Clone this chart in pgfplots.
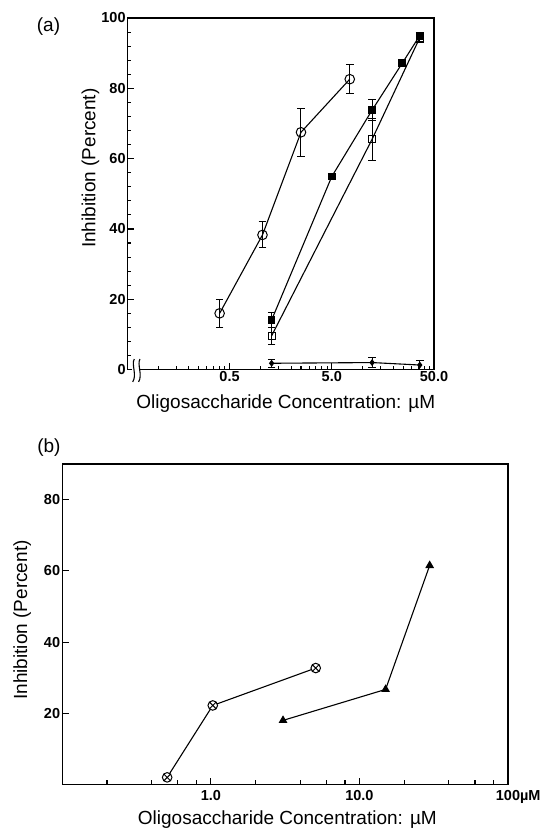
\documentclass[border=0pt]{standalone}
\usepackage{pgfplots}
\pgfplotsset{compat=1.18}
\usepackage{fontspec}
\setmainfont{Liberation Sans}
\usetikzlibrary{plotmarks}
\begin{document}
\begin{tikzpicture}
\path[use as bounding box] (0pt,0pt) rectangle (540pt,835pt);
% Panel (a)
\begin{axis}[
  scale only axis, anchor=south west,
  at={(127.3pt,465.4pt)}, width=306.7pt, height=351.6pt,
  xmode=log,
  xmin=0.05, xmax=50, ymin=0, ymax=100,
  axis line style={line width=1.4pt},
  xtick pos=left, ytick pos=left,
  tick style={draw=none},
  tick label style={font=\bfseries\fontsize{14.5}{15}\selectfont},
  label style={font=\fontsize{19}{20}\selectfont},
  clip=false,
  xtick={0.5,5,50}, xticklabels={0.5,5.0,50.0},
  ytick={0,20,40,60,80,100},
  yticklabel style={inner sep=1.5pt},
  xticklabel style={inner sep=2pt},
  xlabel={Oligosaccharide Concentration: µM},
  xlabel style={at={(axis description cs:0.517,-0.098)}, anchor=center},
  ylabel={Inhibition (Percent)},
  ylabel style={at={(axis description cs:-0.12,0.573)}, anchor=center},
  /pgf/number format/assume math mode=true,
]
% tick marks (inside), drawn in axis coordinates
\pgfplotsinvokeforeach{20,40,60,80}{\draw[line width=1.1pt] (axis cs:0.05,#1) -- (axis cs:0.0579,#1);}
\pgfplotsinvokeforeach{4,8,12,16,24,28,32,36,44,48,52,56,64,68,72,76,84,88,92,96}{\draw[line width=1.1pt] (axis cs:0.05,#1) -- (axis cs:0.05445,#1);}
\pgfplotsinvokeforeach{0.5,5}{\draw[line width=1.1pt] (axis cs:#1,0) -- (axis cs:#1,1.85);}
\pgfplotsinvokeforeach{0.1,0.15,0.2,0.25,0.3,0.35,0.4,0.45,1,1.5,2,2.5,3,3.5,4,4.5,10,15,20,25,30,35,40,45}{\draw[line width=1.1pt] (axis cs:#1,0) -- (axis cs:#1,1.08);}
% data
\addplot[black, line width=1.1pt, mark=diamond*, mark size=2.6pt, mark options={fill=black},
  error bars/.cd, y dir=both, y explicit, error bar style={line width=1pt}, error mark options={rotate=90, mark size=3.8pt, line width=1pt}]
  coordinates {(1.29,1.8) +- (0,1.2) (12.4,2.0) +- (0,1.3) (36.3,1.3) +- (0,1.2)};
\addplot[black, line width=1.1pt, mark=square, mark size=3.4pt, mark options={fill=white, line width=1pt},
  error bars/.cd, y dir=both, y explicit, error bar style={line width=1pt}, error mark options={rotate=90, mark size=3.8pt, line width=1pt}]
  coordinates {(1.29,9.6) +- (0,2.5) (12.4,65.5) +- (0,6) (36.3,94.4) +- (0,1.5)};
\addplot[black, line width=1.1pt, mark=square*, mark size=3.2pt, mark options={fill=black},
  error bars/.cd, y dir=both, y explicit, error bar style={line width=1pt}, error mark options={rotate=90, mark size=3.8pt, line width=1pt}]
  coordinates {(1.29,14.1) +- (0,2) (5.0,54.9) +- (0,0.8) (12.4,73.8) +- (0,3) (24.4,87.1) +- (0,1) (36.3,95.0) +- (0,1)};
\addplot[black, line width=1.1pt, mark=o, mark size=4.8pt, mark options={fill=white, line width=1pt},
  error bars/.cd, y dir=both, y explicit, error bar style={line width=1pt}, error mark options={rotate=90, mark size=3.8pt, line width=1pt}]
  coordinates {(0.40,16.0) +- (0,4) (1.05,38.3) +- (0,3.7) (2.5,67.5) +- (0,6.8) (7.5,82.6) +- (0,4.2)};
% axis break
\fill[white] (axis cs:0.0555,-3.2) rectangle (axis cs:0.0665,3.2);
\draw[line width=1.1pt] (axis cs:0.0585,3.0) .. controls (axis cs:0.0545,1.5) and (axis cs:0.0625,-1.5) .. (axis cs:0.0565,-3.5);
\draw[line width=1.1pt] (axis cs:0.0665,3.0) .. controls (axis cs:0.062,1.5) and (axis cs:0.071,-1.5) .. (axis cs:0.0645,-3.5);
\node[font=\fontsize{19}{20}\selectfont] at (rel axis cs:-0.257,0.975) {(a)};
\end{axis}
% Panel (b)
\begin{axis}[
  scale only axis, anchor=south west,
  at={(62.3pt,50.5pt)}, width=445.7pt, height=320.5pt,
  xmode=log,
  xmin=0.1, xmax=100, ymin=0, ymax=90,
  axis line style={line width=1.4pt},
  xtick pos=left, ytick pos=left,
  tick style={draw=none},
  tick label style={font=\bfseries\fontsize{14.5}{15}\selectfont},
  label style={font=\fontsize{19}{20}\selectfont},
  clip=false,
  xtick={1,10,100}, xticklabels={1.0,10.0,100\rlap{µM}},
  ytick={20,40,60,80},
  yticklabel style={inner sep=2pt},
  xticklabel style={inner sep=6pt},
  xlabel={Oligosaccharide Concentration: µM},
  xlabel style={at={(axis description cs:0.505,-0.111)}, anchor=center},
  ylabel={Inhibition (Percent)},
  ylabel style={at={(axis description cs:-0.09,0.513)}, anchor=center},
  /pgf/number format/assume math mode=true,
]
\pgfplotsinvokeforeach{20,40,60,80}{\draw[line width=1.1pt] (axis cs:0.1,#1) -- (axis cs:0.1106,#1);}
\pgfplotsinvokeforeach{1,10}{\draw[line width=1.1pt] (axis cs:#1,0) -- (axis cs:#1,1.82);}
\pgfplotsinvokeforeach{0.2,0.4,0.6,0.8,2,4,6,8,20,40,60,80}{\draw[line width=1.1pt] (axis cs:#1,0) -- (axis cs:#1,1.35);}
\addplot[black, line width=1.1pt, mark=otimes*, mark size=4.8pt, mark options={fill=white, line width=1pt}]
  coordinates {(0.508,2.0) (1.03,22.2) (5.08,32.7)};
\addplot[black, line width=1.1pt, mark=triangle*, mark size=4pt, mark options={fill=black}]
  coordinates {(3.06,18.0) (15.0,26.7) (29.7,61.5)};
\node[font=\fontsize{19}{20}\selectfont] at (rel axis cs:-0.03,1.05) {(b)};
\end{axis}
\end{tikzpicture}
\end{document}
